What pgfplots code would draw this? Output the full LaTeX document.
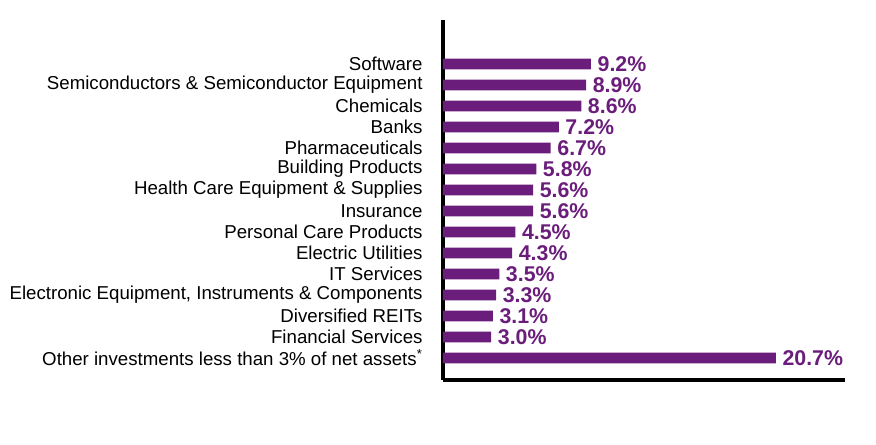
\documentclass[border=0pt]{standalone}
\usepackage{pgfplots}
\pgfplotsset{compat=1.18}
\usepackage{fontspec}
\setmainfont{Liberation Sans}
\definecolor{barpurple}{RGB}{106,29,122}
\begin{document}
\begin{tikzpicture}[x=0.75pt,y=0.75pt]
\useasboundingbox (0,0) rectangle (876,444);
\begin{axis}[
  at={(443*0.75pt,64*0.75pt)}, anchor=south west,
  scale only axis, width=301.5pt, height=270pt,
  xmin=0, xmax=25, ymin=-1.05, ymax=16.1,
  xbar, bar width=8pt,
  axis x line=bottom, axis y line=left,
  axis line style={line width=3pt, -},
  xtick=\empty,
  ytick={0,...,14},
  major tick length=0pt,
  /pgf/number format/assume math mode=true,
  yticklabels={Other investments less than 3\% of net assets\textsuperscript{*},Financial Services,Diversified REITs,{Electronic Equipment, Instruments \& Components},IT Services,Electric Utilities,Personal Care Products,Insurance,Health Care Equipment \& Supplies,Building Products,Pharmaceuticals,Banks,Chemicals,Semiconductors \& Semiconductor Equipment,Software},
  yticklabel style={font=\fontsize{14}{16}\selectfont, xshift=-11.8pt},
  nodes near coords={\pgfmathprintnumber[fixed,fixed zerofill,precision=1,assume math mode=true]{\pgfplotspointmeta}\%},
  point meta=x,
  nodes near coords style={font=\fontsize{16}{18}\selectfont\bfseries, text=barpurple, anchor=west, xshift=1.5pt},
  clip=false,
]
\addplot[fill=barpurple, draw=none] coordinates {
(20.7,0) (3.0,1) (3.1,2) (3.3,3) (3.5,4) (4.3,5) (4.5,6) (5.6,7) (5.6,8) (5.8,9) (6.7,10) (7.2,11) (8.6,12) (8.9,13) (9.2,14)
};
\end{axis}
\end{tikzpicture}
\end{document}
